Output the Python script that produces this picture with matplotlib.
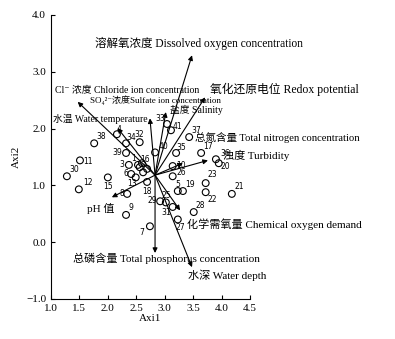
import matplotlib.pyplot as plt

# site scores (Axi1, Axi2)
site_ids = list(range(1, 42))
site_x = [2.53, 2.62, 2.37, 2.16, 3.23, 2.41, 2.74, 2.34, 2.32, 3.14,
          1.51, 1.49, 2.49, 2.56, 2.00, 2.60, 3.64, 2.69, 3.32, 3.95,
          4.18, 3.72, 3.72, 2.69, 3.02, 3.14, 3.23, 3.51, 2.92, 1.28,
          3.14, 2.56, 3.04, 2.32, 3.20, 3.90, 3.43, 1.76, 2.32, 2.83,
          3.11]
site_y = [1.36, 1.23, 1.36, 1.90, 0.90, 1.20, 0.28, 0.85, 0.48, 1.34,
          1.44, 0.93, 1.14, 1.32, 1.14, 1.39, 1.57, 1.06, 0.90, 1.39,
          0.85, 0.88, 1.04, 1.29, 0.70, 1.16, 0.40, 0.53, 0.72, 1.16,
          0.62, 1.76, 2.08, 1.74, 1.57, 1.46, 1.85, 1.74, 1.57, 1.58,
          1.97]

# environmental vectors: origin and arrow tips
origin = (2.83, 1.18)
env_labels = ["溶解氧浓度 Dissolved oxygen concentration",
              "Cl\u207b 浓度 Chloride ion concentration",
              "SO\u2084\u00b2\u207b浓度Sulfate ion concentration",
              "水温 Water temperature",
              "盐度 Salinity",
              "氧化还原电位 Redox potential",
              "总氮含量 Total nitrogen concentration",
              "浊度 Turbidity",
              "pH 值",
              "化学需氧量 Chemical oxygen demand",
              "总磷含量 Total phosphorus concentration",
              "水深 Water depth"]
env_x = [3.48, 1.47, 2.17, 2.74, 3.02, 3.71, 3.32, 3.76, 2.07, 3.27, 2.83, 3.48]
env_y = [3.29, 2.47, 2.01, 2.18, 2.29, 2.55, 1.39, 1.44, 0.79, 0.56, -0.19, -0.44]

# where each vector label sits (left edge, centre) and its size
lab_pos = [(1.77, 3.50), (1.07, 2.69), (1.69, 2.50), (1.035, 2.17),
           (3.09, 2.32), (3.79, 2.69), (3.53, 1.85), (4.02, 1.53),
           (1.63, 0.60), (3.39, 0.32), (1.39, -0.28), (3.41, -0.58)]
lab_size = [8.3, 7, 6.5, 7, 7, 8.5, 7.6, 8, 8, 8, 8, 8]

# offsets (points) of the site numbers, default upper right
num_off = {1: (-3.5, 4.3), 2: None, 3: (-5, 0), 4: (1.5, 3.5), 5: (0, 5),
           6: (-4, 0.5), 7: (-6, -4.3), 8: (-4, 0), 9: (3.6, 5), 10: (5.8, 0.7),
           11: (6, -0.5), 12: (6.5, 5), 13: (-3, -4.3), 14: None, 15: (0, -6.5),
           16: (2.5, 3), 18: (0, -7), 20: (5, -2.5), 22: (5, -5), 23: (5, 6.5),
           24: None, 25: (0, 5), 26: (6.5, 3), 27: (1.5, -5.8), 29: (-6, 0.5),
           31: (-4.3, -4.3), 32: (0, 5.8), 33: (-5, 4.3), 34: (4, 4.3),
           35: (3.6, 4.3), 36: (6.5, 4.3), 39: (-6.5, 0), 40: (5.8, 4.3),
           41: (4.3, 3)}

serif = ['Liberation Serif', 'Noto Sans CJK SC', 'DejaVu Sans']

fig = plt.figure(figsize=(3.95, 3.39), dpi=100)
ax = fig.add_axes([0.129, 0.118, 0.504, 0.838])

ax.scatter(site_x, site_y, s=24, facecolors='none', edgecolors='black',
           linewidths=0.8, zorder=3)
for i, x, y in zip(site_ids, site_x, site_y):
    off = num_off.get(i, (5, 5))
    if off is None:
        continue
    ax.annotate(str(i), (x, y), xytext=off, textcoords='offset points',
                ha='center', va='center', fontsize=5.5, family='DejaVu Sans')

for txt, x, y, (lx, ly), fs in zip(env_labels, env_x, env_y, lab_pos, lab_size):
    ax.annotate('', xy=(x, y), xytext=origin,
                arrowprops=dict(arrowstyle='-|>', color='black', lw=0.8,
                                mutation_scale=7, shrinkA=0, shrinkB=0))
    ax.text(lx, ly, txt, fontsize=fs, family=serif, ha='left', va='center',
            clip_on=False)

ax.set_xlim(1.0, 4.5)
ax.set_ylim(-1.0, 4.0)
ax.set_xticks([1.0, 1.5, 2.0, 2.5, 3.0, 3.5, 4.0, 4.5])
ax.set_yticks([-1.0, 0.0, 1.0, 2.0, 3.0, 4.0])
ax.set_xticklabels(['1.0', '1.5', '2.0', '2.5', '3.0', '3.5', '4.0', '4.5'])
ax.set_yticklabels(['\u22121.0', '0.0', '1.0', '2.0', '3.0', '4.0'])
ax.tick_params(direction='in', length=3, width=0.8, labelsize=8)
for lb in ax.get_xticklabels() + ax.get_yticklabels():
    lb.set_family(serif)
ax.spines['top'].set_visible(False)
ax.spines['right'].set_visible(False)
ax.set_xlabel('Axi1', fontsize=8, family='Liberation Serif', labelpad=1)
ax.set_ylabel('Axi2', fontsize=8, family='Liberation Serif', labelpad=4)

fig.savefig('out.png', dpi=100)
